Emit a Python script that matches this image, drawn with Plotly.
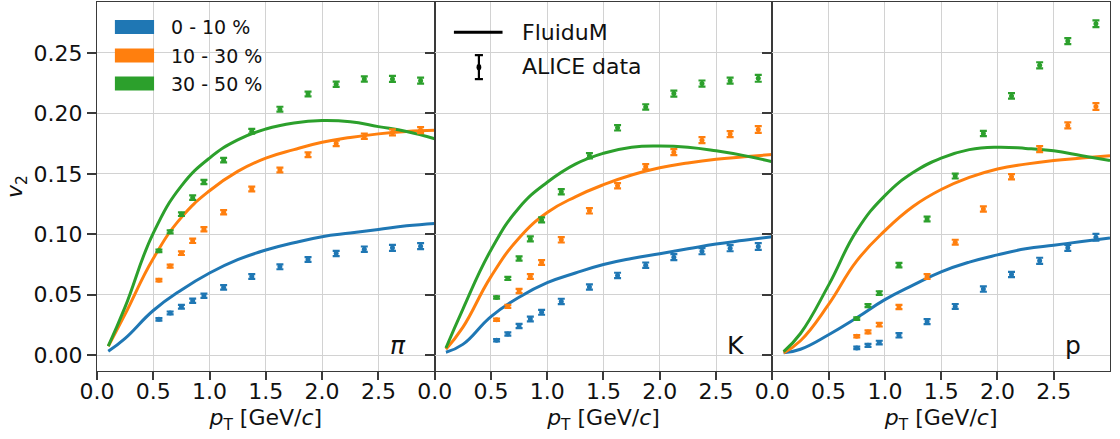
import plotly.graph_objects as go
from plotly.subplots import make_subplots

# ---------------------------------------------------------------
# Elliptic flow v2(pT) of identified hadrons, three centrality classes
# ---------------------------------------------------------------
centralities = ["0 - 10 %", "10 - 30 %", "30 - 50 %"]
colors = ["#1f77b4", "#ff7f0e", "#2ca02c"]
species = ["π", "K", "p"]

# pT grid of the FluiduM calculation
pt_model = [0.1, 0.25, 0.5, 0.75, 1.0, 1.25, 1.5, 1.75, 2.0, 2.25, 2.5, 2.75, 3.0]

# FluiduM v2 for pions
pi_model_0_10 = [0.0033, 0.014, 0.037, 0.054, 0.068, 0.079, 0.087, 0.093, 0.098, 0.101, 0.104, 0.107, 0.109]
pi_model_10_30 = [0.0075, 0.034, 0.080, 0.114, 0.136, 0.152, 0.163, 0.170, 0.176, 0.180, 0.183, 0.185, 0.186]
pi_model_30_50 = [0.0075, 0.040, 0.101, 0.140, 0.163, 0.178, 0.187, 0.192, 0.194, 0.193, 0.189, 0.185, 0.179]

# FluiduM v2 for kaons
k_model_0_10 = [0.0025, 0.009, 0.032, 0.048, 0.060, 0.068, 0.075, 0.080, 0.084, 0.088, 0.092, 0.095, 0.098]
k_model_10_30 = [0.005, 0.023, 0.065, 0.097, 0.118, 0.131, 0.141, 0.149, 0.155, 0.159, 0.162, 0.164, 0.166]
k_model_30_50 = [0.006, 0.038, 0.087, 0.122, 0.143, 0.158, 0.167, 0.172, 0.173, 0.172, 0.169, 0.165, 0.160]

# FluiduM v2 for protons
p_model_0_10 = [0.002, 0.005, 0.017, 0.031, 0.046, 0.058, 0.069, 0.077, 0.083, 0.088, 0.091, 0.094, 0.097]
p_model_10_30 = [0.002, 0.012, 0.042, 0.078, 0.103, 0.123, 0.137, 0.147, 0.154, 0.158, 0.161, 0.163, 0.165]
p_model_30_50 = [0.003, 0.018, 0.058, 0.103, 0.132, 0.151, 0.163, 0.170, 0.172, 0.171, 0.169, 0.165, 0.161]

# ALICE measurement: bin centres
pt_pi = [0.55, 0.65, 0.75, 0.85, 0.95, 1.125, 1.375, 1.625, 1.875, 2.125, 2.375, 2.625, 2.875]
pt_k = [0.55, 0.65, 0.75, 0.85, 0.95, 1.125, 1.375, 1.625, 1.875, 2.125, 2.375, 2.625, 2.875]
pt_p = [0.75, 0.85, 0.95, 1.125, 1.375, 1.625, 1.875, 2.125, 2.375, 2.625, 2.875]

# ALICE v2 for pions
pi_data_0_10 = [0.0297, 0.0350, 0.0401, 0.0451, 0.0492, 0.0561, 0.0651, 0.0731, 0.0792, 0.0841, 0.0877, 0.0888, 0.0902]
pi_data_10_30 = [0.0621, 0.0737, 0.0844, 0.0946, 0.1042, 0.1182, 0.1374, 0.1531, 0.1657, 0.1751, 0.1811, 0.1842, 0.1861]
pi_data_30_50 = [0.0863, 0.1020, 0.1166, 0.1303, 0.1432, 0.1613, 0.1852, 0.2034, 0.2160, 0.2240, 0.2284, 0.2284, 0.2270]
pi_err = [0.0010, 0.0012, 0.0015, 0.0018, 0.0018, 0.0018, 0.0020, 0.0020, 0.0020, 0.0022, 0.0022, 0.0025, 0.0025]

# ALICE v2 for kaons
k_data_0_10 = [0.0124, 0.0176, 0.0242, 0.0300, 0.0355, 0.0445, 0.0564, 0.0660, 0.0745, 0.0811, 0.0860, 0.0885, 0.0899]
k_data_10_30 = [0.0294, 0.0404, 0.0531, 0.0651, 0.0767, 0.0954, 0.1194, 0.1401, 0.1558, 0.1679, 0.1778, 0.1828, 0.1866]
k_data_30_50 = [0.0478, 0.0635, 0.0800, 0.0962, 0.1119, 0.1352, 0.1649, 0.1880, 0.2053, 0.2163, 0.2246, 0.2270, 0.2289]
k_err = [0.0010, 0.0013, 0.0018, 0.0020, 0.0020, 0.0022, 0.0022, 0.0022, 0.0022, 0.0025, 0.0025, 0.0025, 0.0028]

# ALICE v2 for protons
p_data_0_10 = [0.0061, 0.0082, 0.0105, 0.0165, 0.0278, 0.0404, 0.0547, 0.0668, 0.0781, 0.0888, 0.0976]
p_data_10_30 = [0.0157, 0.0193, 0.0253, 0.0399, 0.0651, 0.0935, 0.1209, 0.1476, 0.1704, 0.1900, 0.2056]
p_data_30_50 = [0.0303, 0.0410, 0.0514, 0.0745, 0.1126, 0.1481, 0.1833, 0.2144, 0.2397, 0.2597, 0.2740]
p_err = [0.0010, 0.0012, 0.0015, 0.0018, 0.0020, 0.0020, 0.0022, 0.0022, 0.0025, 0.0025, 0.0028]

x_ticks = [0.0, 0.5, 1.0, 1.5, 2.0, 2.5]
y_ticks = [0.00, 0.05, 0.10, 0.15, 0.20, 0.25]

panels = [
    (pt_pi, [pi_model_0_10, pi_model_10_30, pi_model_30_50],
     [pi_data_0_10, pi_data_10_30, pi_data_30_50], pi_err),
    (pt_k, [k_model_0_10, k_model_10_30, k_model_30_50],
     [k_data_0_10, k_data_10_30, k_data_30_50], k_err),
    (pt_p, [p_model_0_10, p_model_10_30, p_model_30_50],
     [p_data_0_10, p_data_10_30, p_data_30_50], p_err),
]

FONT = "DejaVu Sans"
AXIS_COLOR = "#3a3a3a"
GRID_COLOR = "#d2d2d2"
TEXT_COLOR = "#111111"

fig = make_subplots(rows=1, cols=3, shared_yaxes=True, horizontal_spacing=0)

for col, (pt_data, models, datas, err) in enumerate(panels, start=1):
    # model curves underneath
    for model, color, name in zip(models, colors, centralities):
        fig.add_trace(go.Scatter(
            x=pt_model, y=model, mode="lines", name=name,
            line=dict(color=color, width=3, shape="spline", smoothing=1.3),
            showlegend=False, hoverinfo="skip"), row=1, col=col)
    # measured points with error bars on top
    for data, color, name in zip(datas, colors, centralities):
        fig.add_trace(go.Scatter(
            x=pt_data, y=data, mode="markers", name=name,
            marker=dict(color=color, size=5, symbol="circle"),
            error_y=dict(type="data", array=err, color=color, thickness=2.2, width=3.5),
            showlegend=False), row=1, col=col)

for i in range(3):
    sfx = "" if i == 0 else str(i + 1)
    fig.layout["xaxis" + sfx].update(
        domain=[i / 3, (i + 1) / 3], range=[0, 3.0],
        tickvals=x_ticks, tickformat=".1f",
        ticks="outside", ticklen=8, tickwidth=1.5, tickcolor=AXIS_COLOR,
        ticklabelstandoff=-8,
        showline=True, linecolor=AXIS_COLOR, linewidth=1.2, mirror=True,
        showgrid=True, gridcolor=GRID_COLOR, gridwidth=1, zeroline=False,
        tickfont=dict(family=FONT, size=22, color=TEXT_COLOR),
        title=dict(text="<i>p</i><sub>T</sub> [GeV/<i>c</i>]",
                   font=dict(family=FONT, size=22, color=TEXT_COLOR), standoff=7),
    )
    fig.layout["yaxis" + sfx].update(
        range=[-0.013, 0.292], tickvals=y_ticks, tickformat=".2f",
        ticks="outside", ticklen=9, tickwidth=1.5, tickcolor=AXIS_COLOR,
        showline=True, linecolor=AXIS_COLOR, linewidth=1.2, mirror=True,
        showgrid=True, gridcolor=GRID_COLOR, gridwidth=1, zeroline=False,
        showticklabels=(i == 0),
        tickfont=dict(family=FONT, size=22, color=TEXT_COLOR),
    )

fig.layout.yaxis.title = dict(text="<i>v</i><sub>2</sub>",
                              font=dict(family=FONT, size=22, color=TEXT_COLOR), standoff=4)

# species labels in the lower right corner of each panel
for i, label in enumerate(species):
    xr = "x domain" if i == 0 else f"x{i + 1} domain"
    yr = "y domain" if i == 0 else f"y{i + 1} domain"
    text = "<i>π</i>" if label == "π" else label
    fig.add_annotation(x=0.921, y=0.07, xref=xr, yref=yr, text=text, showarrow=False,
                       xanchor="right", yanchor="middle",
                       font=dict(family=FONT, size=25, color=TEXT_COLOR))

# centrality legend (colour patches) in the first panel
legend_rows = [0.932, 0.855, 0.779]
for name, color, yc in zip(centralities, colors, legend_rows):
    fig.add_shape(type="rect", xref="x domain", yref="y domain",
                  x0=0.053, x1=0.169, y0=yc - 0.019, y1=yc + 0.019,
                  fillcolor=color, line=dict(width=0))
    fig.add_annotation(x=0.213, y=yc, xref="x domain", yref="y domain", text=name,
                       showarrow=False, xanchor="left", yanchor="middle",
                       font=dict(family=FONT, size=19, color=TEXT_COLOR))

# model / data legend in the second panel
fig.add_shape(type="line", xref="x2 domain", yref="y2 domain",
              x0=0.057, x1=0.201, y0=0.918, y1=0.918,
              line=dict(color="black", width=3))
fig.add_shape(type="line", xref="x2 domain", yref="y2 domain",
              x0=0.131, x1=0.131, y0=0.791, y1=0.856,
              line=dict(color="black", width=2.2))
for yc in (0.791, 0.856):
    fig.add_shape(type="line", xref="x2 domain", yref="y2 domain",
                  x0=0.119, x1=0.143, y0=yc, y1=yc,
                  line=dict(color="black", width=2.2))
fig.add_shape(type="circle", xref="x2 domain", yref="y2 domain",
              x0=0.124, x1=0.138, y0=0.815, y1=0.832,
              fillcolor="black", line=dict(width=0))
fig.add_annotation(x=0.254, y=0.918, xref="x2 domain", yref="y2 domain", text="FluiduM",
                   showarrow=False, xanchor="left", yanchor="middle",
                   font=dict(family=FONT, size=22, color=TEXT_COLOR))
fig.add_annotation(x=0.254, y=0.824, xref="x2 domain", yref="y2 domain", text="ALICE data",
                   showarrow=False, xanchor="left", yanchor="middle",
                   font=dict(family=FONT, size=22, color=TEXT_COLOR))

fig.update_layout(
    width=1120, height=439,
    margin=dict(l=97, r=10, t=2, b=68),
    paper_bgcolor="white", plot_bgcolor="white",
    showlegend=False,
    font=dict(family=FONT),
)

fig.write_html("out.html")
